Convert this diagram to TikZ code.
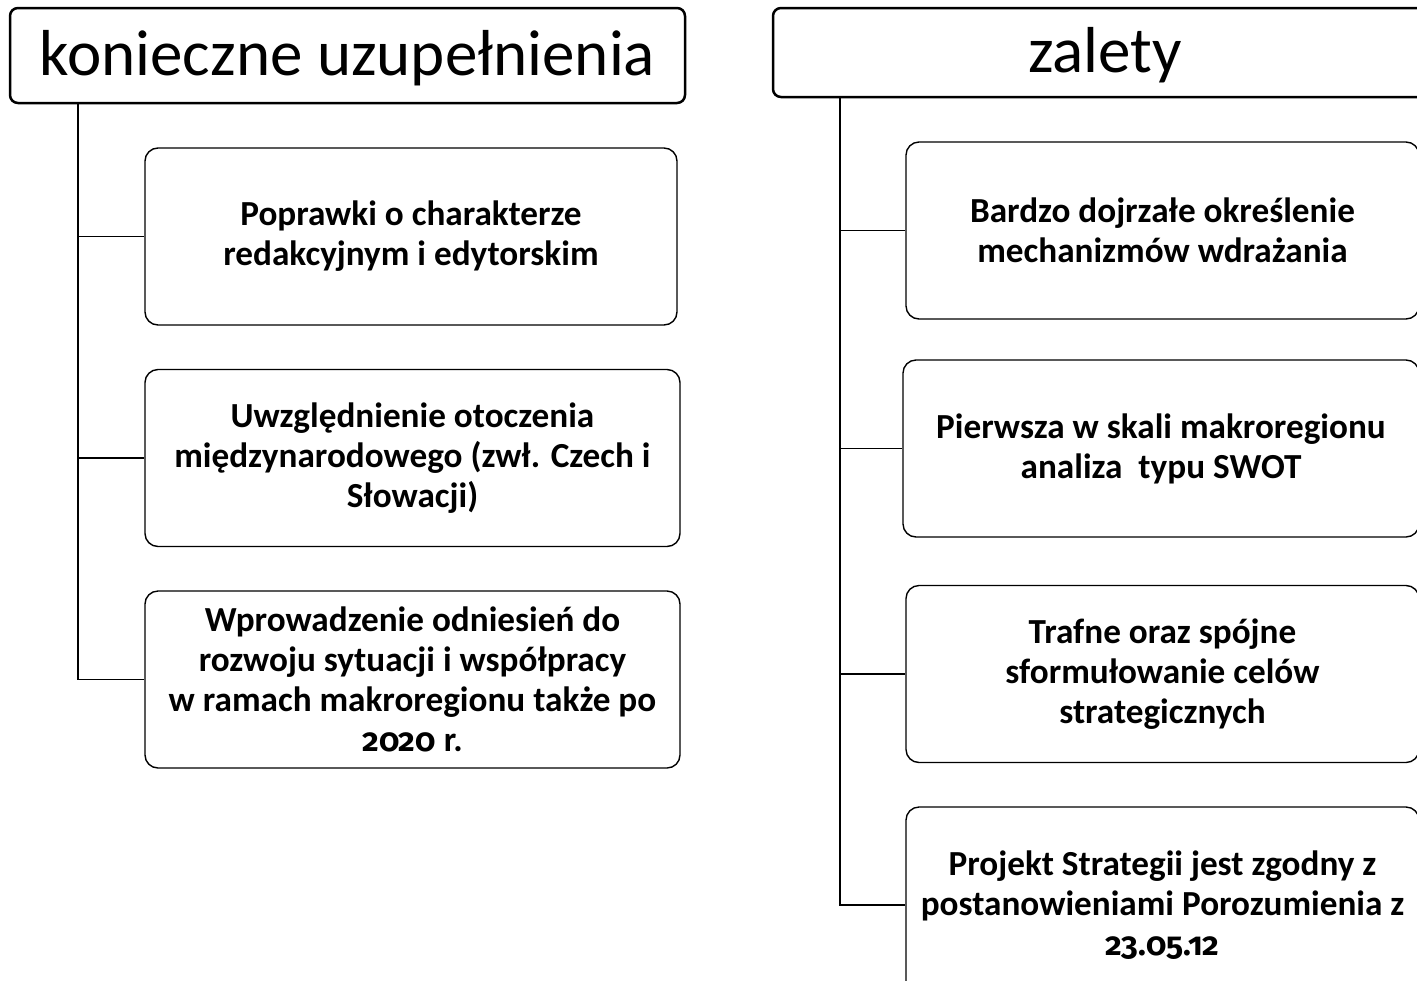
\documentclass[tikz,border=0pt]{standalone}
\usepackage{fontspec}
\setmainfont{Carlito}
\newfontfamily\onum{Fira Sans}[Numbers=OldStyle,Scale=0.92]
\begin{document}
\begin{tikzpicture}[x=0.5pt,y=-0.5pt,
  head/.style={draw=black,line width=1.25pt,rounded corners=4pt,fill=white,inner sep=0pt,
    text height=30pt,text depth=10pt,font=\fontsize{32.5}{38}\selectfont},
  item/.style={draw=black,line width=0.7pt,rounded corners=6.5pt,fill=white,inner sep=0pt,align=center,
    minimum height=88.5pt,font=\bfseries\fontsize{17.6}{20}\selectfont},
  conn/.style={line width=0.75pt}]
\useasboundingbox (0,0) rectangle (1417,980);
\clip (0,0) rectangle (1417,980);
% left column
\node[head,minimum width=337.5pt,minimum height=47.5pt] (lh) at (347.5,55.5) {konieczne uzupełnienia};
\node[item,minimum width=266pt] (l1) at (411,236.5) {Poprawki o charakterze\\redakcyjnym i edytorskim};
\node[item,minimum width=267.5pt] (l2) at (412.5,458) {Uwzględnienie otoczenia\\międzynarodowego (zwł. Czech i\\Słowacji)};
\node[item,minimum width=267.5pt] (l3) at (412.5,679.5) {Wprowadzenie odniesień do\\rozwoju sytuacji i współpracy\\w ramach makroregionu także po\\{\onum 2020} r.};
\coordinate (lt) at (78,103);
\draw[conn] (lt) |- (l3.west);
\draw[conn] (lt |- l1.west) -- (l1.west);
\draw[conn] (lt |- l2.west) -- (l2.west);
% right column
\node[head,minimum width=332pt,minimum height=44.5pt] (rh) at (1105,52.5) {zalety};
\node[item,minimum width=256.5pt] (r1) at (1162.5,230.5) {Bardzo dojrzałe określenie\\mechanizmów wdrażania};
\node[item,minimum width=258pt] (r2) at (1161,448.5) {Pierwsza w skali makroregionu\\analiza\ \ typu SWOT};
\node[item,minimum width=256.5pt] (r3) at (1162.5,674) {Trafne oraz spójne\\sformułowanie celów\\strategicznych};
\node[item,minimum width=256.5pt,minimum height=98pt] (r4) at (1162.5,905) {Projekt Strategii jest zgodny z\\postanowieniami Porozumienia z\\{\onum 23.05.12}};
\coordinate (rt) at (840,97);
\draw[conn] (rt) |- (r4.west);
\draw[conn] (rt |- r1.west) -- (r1.west);
\draw[conn] (rt |- r2.west) -- (r2.west);
\draw[conn] (rt |- r3.west) -- (r3.west);
\end{tikzpicture}
\end{document}
